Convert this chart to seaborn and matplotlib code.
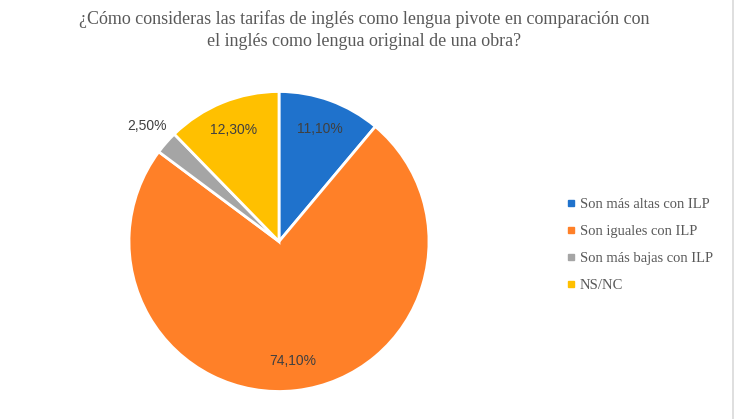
import matplotlib
matplotlib.use("Agg")
import matplotlib.pyplot as plt
import seaborn as sns
import numpy as np
from matplotlib.lines import Line2D

sns.set_theme(style="white")
plt.rcParams['font.family'] = ['Liberation Serif', 'DejaVu Serif']

title = "¿Cómo consideras las tarifas de inglés como lengua pivote en comparación con\nel inglés como lengua original de una obra?"
categories = ["Son más altas con ILP", "Son iguales con ILP", "Son más bajas con ILP", "NS/NC"]
values = [11.1, 74.1, 2.5, 12.3]
value_labels = ["11,10%", "74,10%", "2,50%", "12,30%"]
colors = ["#1F72CC", "#FF8028", "#A5A5A5", "#FFC000"]

fig = plt.figure(figsize=(7.36, 4.19), dpi=100)
fig.patch.set_facecolor("white")
ax = fig.add_axes([129/736, (419-392)/419, 300/736, 301/419])

wedges, _ = ax.pie(values, colors=colors, startangle=90, counterclock=False,
                   wedgeprops=dict(edgecolor="white", linewidth=2))
ax.set_xlim(-1.0, 1.0)
ax.set_ylim(-1.0, 1.0)
ax.set_aspect("equal")

for w, lab, v in zip(wedges, value_labels, values):
    ang = np.deg2rad((w.theta1 + w.theta2) / 2)
    d = 1.17 if v < 5 else 0.8
    ax.text(d * np.cos(ang), d * np.sin(ang), lab, ha="center", va="center",
            fontsize=10, color="#404040", family=['Liberation Sans', 'DejaVu Sans'])

fig.text(0.495, 0.975, title, ha="center", va="top", fontsize=13,
         color="#595959", linespacing=1.35)

handles = [Line2D([0], [0], marker="s", linestyle="", markersize=5,
                  markerfacecolor=c, markeredgecolor=c) for c in colors]
fig.legend(handles, categories, loc="center left", bbox_to_anchor=(0.748, 0.415),
           frameon=False, fontsize=10.5, labelcolor="#595959", handletextpad=0.1,
           labelspacing=0.95, handlelength=1.0)

fig.add_artist(Line2D([733/736, 733/736], [0, 1], color="#D9D9D9", linewidth=1.2))

fig.savefig("out.png", dpi=100, facecolor="white")
